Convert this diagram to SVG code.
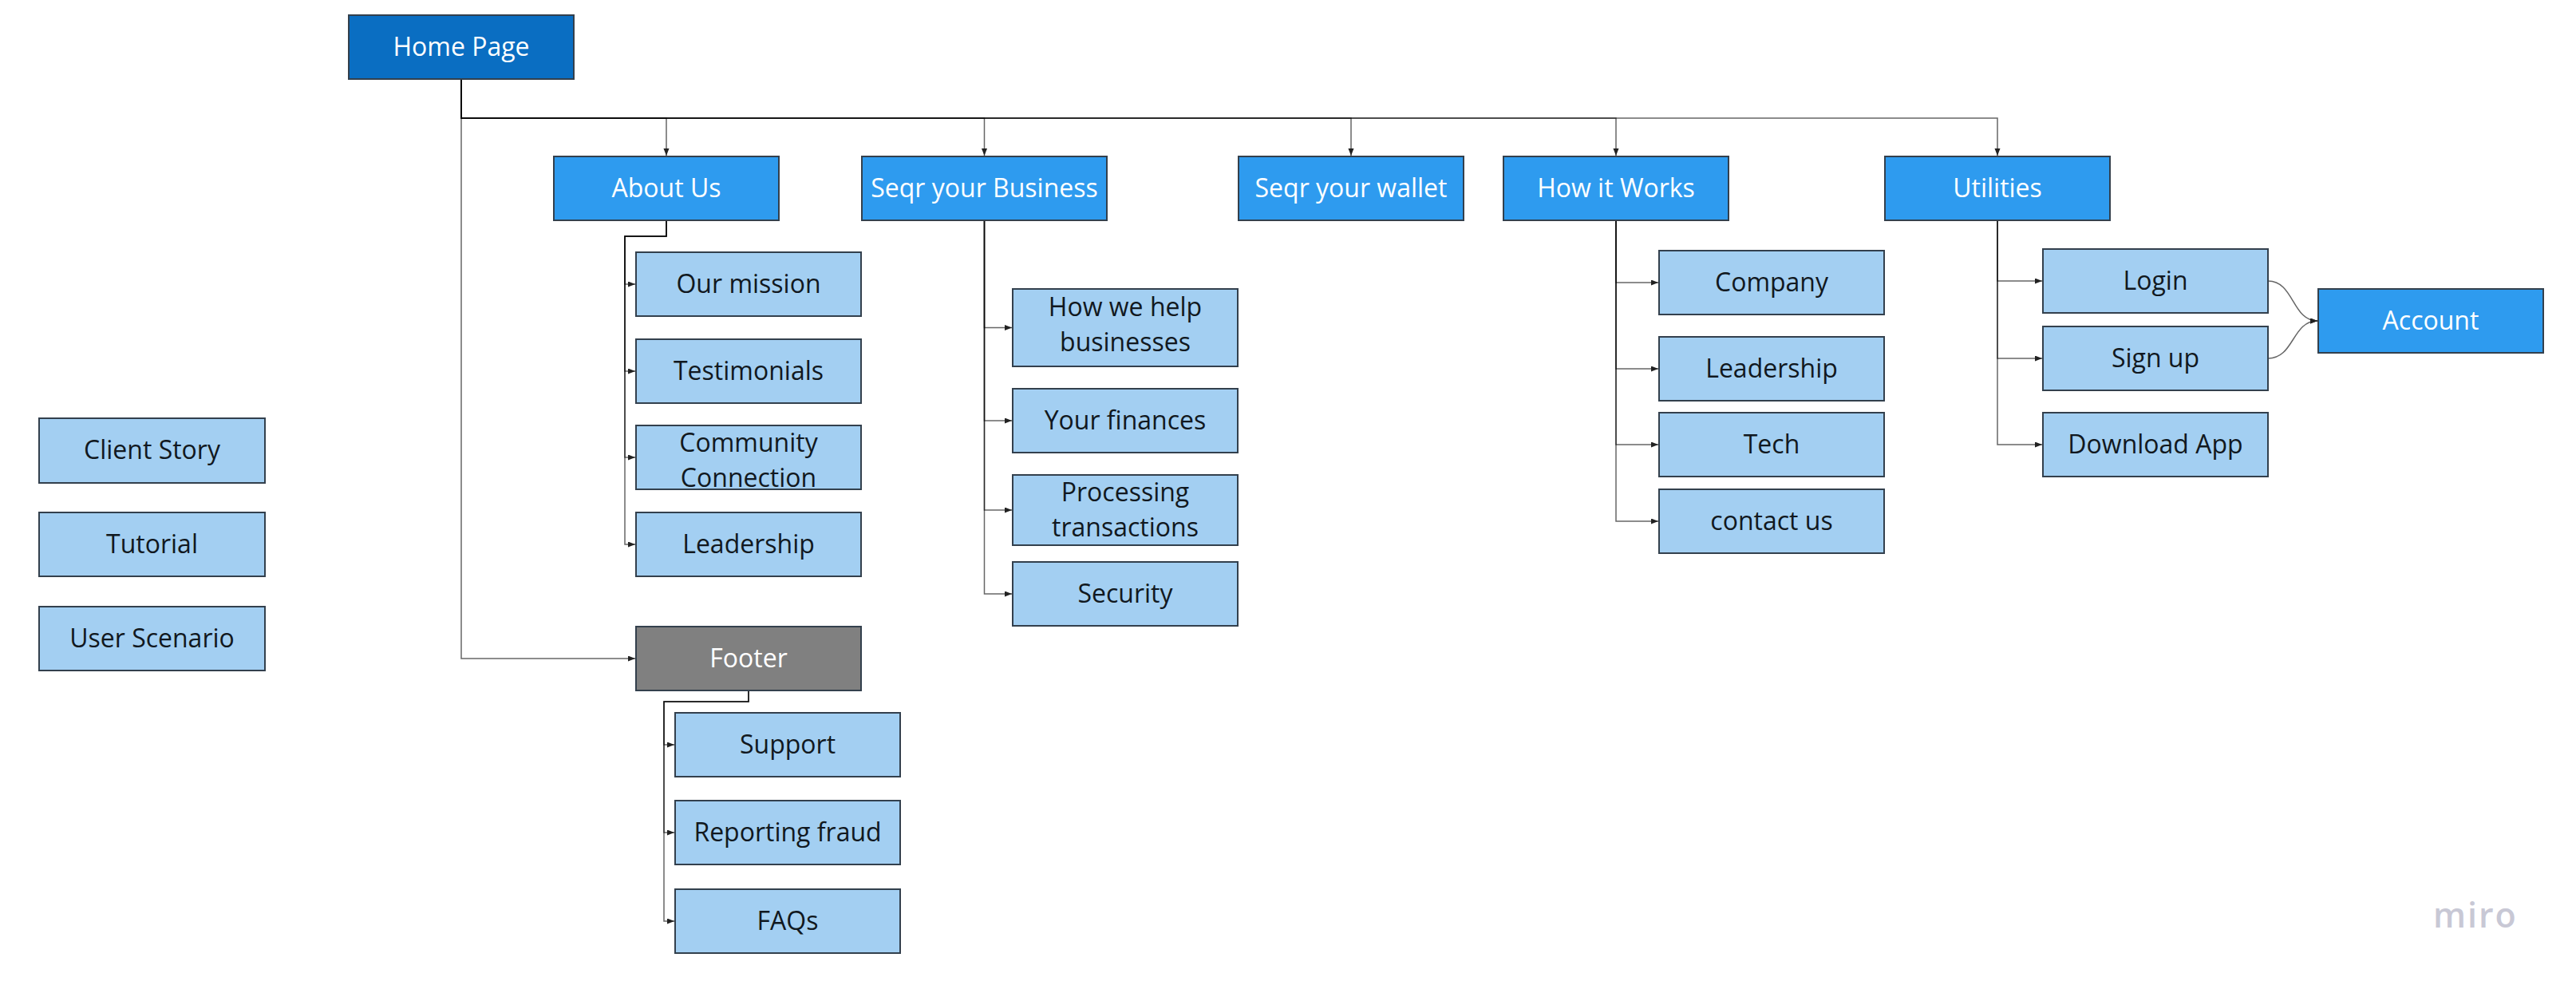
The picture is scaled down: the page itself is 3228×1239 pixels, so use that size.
<svg xmlns="http://www.w3.org/2000/svg" width="3228" height="1239" viewBox="0 0 3228 1239">
<style>
.n rect{stroke:#33404d;stroke-width:2}
.home rect{fill:#0a6ec2}
.pri rect{fill:#2e9bef}
.sec rect{fill:#a3cff2}
.foot rect{fill:#808080}
text{font-family:"Open Sans","Liberation Sans",sans-serif;font-size:32px;text-anchor:middle}
.home text,.pri text,.foot text{fill:#ffffff}
.sec text{fill:#111820}
.c path{fill:none;stroke:#000;stroke-opacity:0.6;stroke-width:1.5;marker-end:url(#ar)}
.wm{font-family:"Open Sans","Liberation Sans",sans-serif;font-size:43px;font-weight:600;fill:#c8c8d5;text-anchor:start;letter-spacing:2px}
</style>
<defs>
<marker id="ar" markerUnits="userSpaceOnUse" markerWidth="10" markerHeight="8" refX="9" refY="3.5" orient="auto">
<path d="M0,0 L9,3.5 L0,7 z" fill="#222"/>
</marker>
</defs>
<rect width="3228" height="1239" fill="#ffffff"/>
<g id="connectors" class="c">
<path d="M578,99 V148 H835 V195"/>
<path d="M578,99 V148 H1233.5 V195"/>
<path d="M578,99 V148 H1693 V195"/>
<path d="M578,99 V148 H2025 V195"/>
<path d="M578,99 V148 H2503 V195"/>
<path d="M578,99 V825 H796"/>
<path d="M835,276 V296 H783 V356 H796"/>
<path d="M835,276 V296 H783 V465 H796"/>
<path d="M835,276 V296 H783 V573 H796"/>
<path d="M835,276 V296 H783 V682 H796"/>
<path d="M1233.5,276 V410.5 H1268"/>
<path d="M1233.5,276 V527 H1268"/>
<path d="M1233.5,276 V639 H1268"/>
<path d="M1233.5,276 V744 H1268"/>
<path d="M2025,276 V354 H2078"/>
<path d="M2025,276 V462 H2078"/>
<path d="M2025,276 V557 H2078"/>
<path d="M2025,276 V653 H2078"/>
<path d="M2503,276 V352 H2559"/>
<path d="M2503,276 V449 H2559"/>
<path d="M2503,276 V557 H2559"/>
<path d="M938,865 V879 H832 V933 H845"/>
<path d="M938,865 V879 H832 V1043 H845"/>
<path d="M938,865 V879 H832 V1154 H845"/>
<path d="M2842,352 C2875,352 2872,402 2904,402"/>
<path d="M2842,449 C2875,449 2872,402 2904,402"/>
</g>
<g id="home" class="n home"><rect x="437" y="19" width="282" height="80"/><text x="578" y="70">Home Page</text></g>
<g id="about" class="n pri"><rect x="694" y="196" width="282" height="80"/><text x="835" y="247">About Us</text></g>
<g id="business" class="n pri"><rect x="1080" y="196" width="307" height="80"/><text x="1233.5" y="247">Seqr your Business</text></g>
<g id="wallet" class="n pri"><rect x="1552" y="196" width="282" height="80"/><text x="1693" y="247">Seqr your wallet</text></g>
<g id="how" class="n pri"><rect x="1884" y="196" width="282" height="80"/><text x="2025" y="247">How it Works</text></g>
<g id="utilities" class="n pri"><rect x="2362" y="196" width="282" height="80"/><text x="2503" y="247">Utilities</text></g>
<g id="account" class="n pri"><rect x="2905" y="362" width="282" height="80"/><text x="3046" y="413">Account</text></g>
<g id="mission" class="n sec"><rect x="797" y="316" width="282" height="80"/><text x="938" y="367">Our mission</text></g>
<g id="testimonials" class="n sec"><rect x="797" y="425" width="282" height="80"/><text x="938" y="476">Testimonials</text></g>
<g id="community" class="n sec"><rect x="797" y="533" width="282" height="80"/><text x="938" y="566">Community</text><text x="938" y="610">Connection</text></g>
<g id="leadership1" class="n sec"><rect x="797" y="642" width="282" height="80"/><text x="938" y="693">Leadership</text></g>
<g id="footer" class="n foot"><rect x="797" y="785" width="282" height="80"/><text x="938" y="836">Footer</text></g>
<g id="support" class="n sec"><rect x="846" y="893" width="282" height="80"/><text x="987" y="944">Support</text></g>
<g id="fraud" class="n sec"><rect x="846" y="1003" width="282" height="80"/><text x="987" y="1054">Reporting fraud</text></g>
<g id="faqs" class="n sec"><rect x="846" y="1114" width="282" height="80"/><text x="987" y="1165">FAQs</text></g>
<g id="help" class="n sec"><rect x="1269" y="362" width="282" height="97"/><text x="1410" y="396">How we help</text><text x="1410" y="440">businesses</text></g>
<g id="finances" class="n sec"><rect x="1269" y="487" width="282" height="80"/><text x="1410" y="538">Your finances</text></g>
<g id="processing" class="n sec"><rect x="1269" y="595" width="282" height="88"/><text x="1410" y="628">Processing</text><text x="1410" y="672">transactions</text></g>
<g id="security" class="n sec"><rect x="1269" y="704" width="282" height="80"/><text x="1410" y="755">Security</text></g>
<g id="company" class="n sec"><rect x="2079" y="314" width="282" height="80"/><text x="2220" y="365">Company</text></g>
<g id="leadership2" class="n sec"><rect x="2079" y="422" width="282" height="80"/><text x="2220" y="473">Leadership</text></g>
<g id="tech" class="n sec"><rect x="2079" y="517" width="282" height="80"/><text x="2220" y="568">Tech</text></g>
<g id="contact" class="n sec"><rect x="2079" y="613" width="282" height="80"/><text x="2220" y="664">contact us</text></g>
<g id="login" class="n sec"><rect x="2560" y="312" width="282" height="80"/><text x="2701" y="363">Login</text></g>
<g id="signup" class="n sec"><rect x="2560" y="409" width="282" height="80"/><text x="2701" y="460">Sign up</text></g>
<g id="download" class="n sec"><rect x="2560" y="517" width="282" height="80"/><text x="2701" y="568">Download App</text></g>
<g id="client" class="n sec"><rect x="49" y="524" width="283" height="81"/><text x="190.5" y="575">Client Story</text></g>
<g id="tutorial" class="n sec"><rect x="49" y="642" width="283" height="80"/><text x="190.5" y="693">Tutorial</text></g>
<g id="scenario" class="n sec"><rect x="49" y="760" width="283" height="80"/><text x="190.5" y="811">User Scenario</text></g>
<text class="wm" x="3049" y="1162">miro</text>
</svg>
